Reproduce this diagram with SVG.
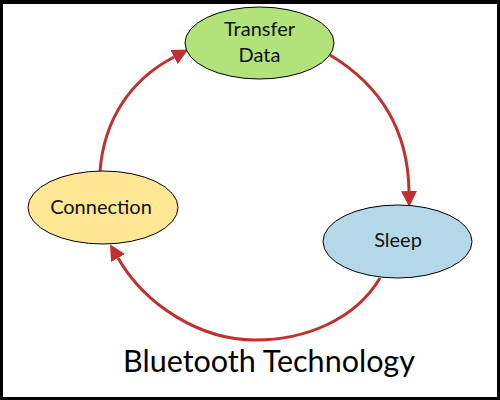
<svg xmlns="http://www.w3.org/2000/svg" width="500" height="400" viewBox="0 0 500 400">
<defs>
<style>
.node ellipse{stroke:#000;stroke-width:1}
.node text{font-family:"Lato","Liberation Sans",sans-serif;font-size:20px;fill:#111;text-anchor:middle}
.conn path{fill:none;stroke:#C0302E;stroke-width:3}
.title{font-family:"Lato","Liberation Sans",sans-serif;font-size:30.5px;fill:#000;text-anchor:middle}
</style>
<marker id="ah" markerUnits="userSpaceOnUse" markerWidth="18" markerHeight="16" refX="0" refY="8" orient="auto" viewBox="0 0 18 16">
<polygon points="0,0 16,8 0,16" fill="#C0302E"/>
</marker>
</defs>
<rect x="0" y="0" width="500" height="400" fill="#000"/>
<rect x="3" y="4" width="494" height="393" fill="#fff"/>
<g class="conn" id="connectors">
<path d="M100,171 C104,120 130,80 174,57" marker-end="url(#ah)"/>
<path d="M330,55 C380,85 408,130 409,191" marker-end="url(#ah)"/>
<path d="M380,278 C355,320 305,340 255,340 C200,340 145,305 118,258" marker-end="url(#ah)"/>
</g>
<g class="node" id="transfer">
<ellipse cx="259.5" cy="43" rx="74.5" ry="36" fill="#B2E27A"/>
<text x="259.5" y="36">Transfer</text>
<text x="259.5" y="62">Data</text>
</g>
<g class="node" id="connection">
<ellipse cx="103" cy="207.5" rx="75" ry="36.5" fill="#FFE793"/>
<text x="101" y="214">Connection</text>
</g>
<g class="node" id="sleep">
<ellipse cx="397.5" cy="241.5" rx="74.5" ry="36.5" fill="#B4D8E8"/>
<text x="398" y="247">Sleep</text>
</g>
<text class="title" x="269" y="372">Bluetooth Technology</text>
</svg>
